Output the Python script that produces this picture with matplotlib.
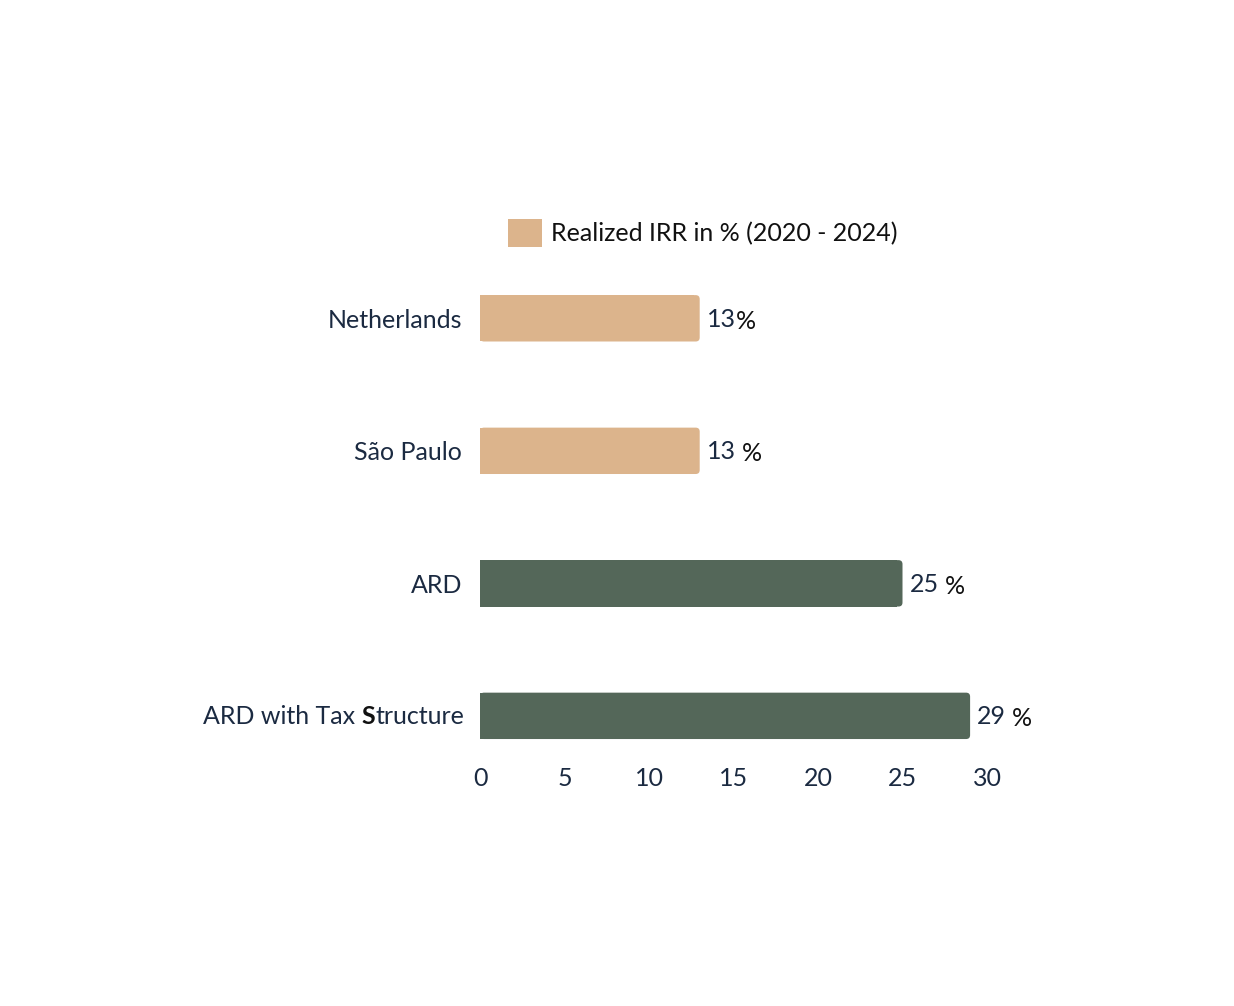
import matplotlib
matplotlib.use("Agg")
import matplotlib.pyplot as plt
from matplotlib.patches import FancyBboxPatch, Patch
from matplotlib.transforms import IdentityTransform

categories = ["Netherlands", "São Paulo", "ARD", "ARD with Tax Structure"]
values = [13, 13, 25, 29]
value_labels = ["13", "13", "25", "29"]
pct_sep = ["", " ", " ", " "]
bar_colors = ["#DCB48C", "#DCB48C", "#546759", "#546759"]
xticks = [0, 5, 10, 15, 20, 25, 30]
legend_label = "Realized IRR in % (2020 - 2024)"

NAVY = "#1B2A41"
FONT = ["Lato", "DejaVu Sans"]
FS = 18
plt.rcParams["font.family"] = FONT

fig = plt.figure(figsize=(12.34, 10.06), dpi=100)
ax = fig.add_axes([480/1234, 1-745/1006, 507/1234, 485/1006])

ypos = list(range(len(categories)))
h = 0.35
rpx = 4
xu = 30/507
yu = 3.66/485
for y, v, c in zip(ypos, values, bar_colors):
    ax.barh(y, v - rpx*xu*1.5, height=h, color=c, linewidth=0)
    p = FancyBboxPatch((0, y - h/2), v, h,
                       boxstyle=f"round,pad=0,rounding_size={rpx*xu}",
                       mutation_aspect=yu/xu, fc=c, ec="none", lw=0)
    ax.add_patch(p)

ax.set_xlim(0, 30)
ax.set_ylim(3.22, -0.44)
ax.set_xticks(xticks)
ax.set_xticklabels([str(t) for t in xticks], fontsize=FS, color=NAVY)
ax.set_yticks(ypos)
ax.set_yticklabels(categories[:-1] + [""], fontsize=FS, color=NAVY)
ax.tick_params(axis="both", length=0)
ax.tick_params(axis="x", pad=16)
ax.tick_params(axis="y", pad=13)
for s in ax.spines.values():
    s.set_visible(False)

fig.legend(handles=[Patch(fc=bar_colors[0], ec="none")], labels=[legend_label],
           loc="center", bbox_to_anchor=(703/1234, 1-233/1006), frameon=False,
           fontsize=FS, handlelength=1.35, handleheight=1.35, handletextpad=0.36,
           labelcolor="#111111")

fig.canvas.draw()
r = fig.canvas.get_renderer()

# value labels: number navy + % black
for y, v, lab, sep in zip(ypos, values, value_labels, pct_sep):
    xd, yd = ax.transData.transform((v, y))
    t = ax.text(xd + 7, yd - 1, lab, transform=IdentityTransform(), ha="left",
                va="center", fontsize=FS, color=NAVY)
    bb = t.get_window_extent(r)
    gap = 6 if sep else 0
    ax.text(bb.x1 + gap, yd - 3, "%", transform=IdentityTransform(), ha="left",
            va="center", fontsize=FS, color="#111111")

# last category label with emphasized "S"
xd, yd = ax.transData.transform((0, ypos[-1]))
xr = xd - 16
parts = [("ARD with Tax ", NAVY, "normal"), ("S", "#111111", "bold"), ("tructure", NAVY, "normal")]
for txt, col, wt in reversed(parts):
    t = fig.text(xr, yd - 1, txt, transform=IdentityTransform(), ha="right", va="center",
                 fontsize=FS, color=col, fontweight=wt)
    bb = t.get_window_extent(r)
    xr = bb.x0

fig.savefig("out.png", dpi=100, facecolor="white")
